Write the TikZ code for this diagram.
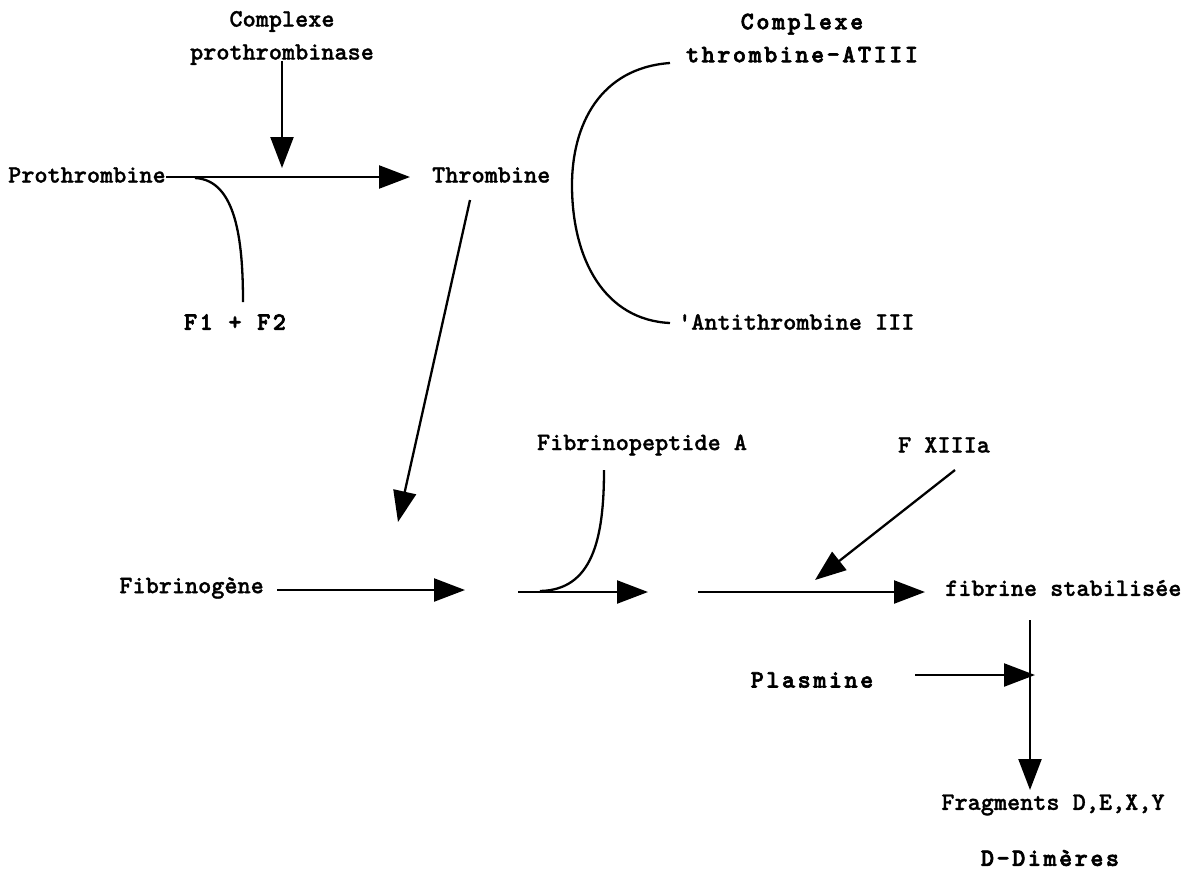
\documentclass[tikz,border=0pt]{standalone}
\usepackage{fontspec}
\newfontfamily\labelfont{lmmonolt10-bold.otf}[FakeBold=1.2]
\newfontfamily\heavyfont{lmmonolt10-bold.otf}[LetterSpace=10, FakeBold=2.6]
\usetikzlibrary{arrows.meta}

\begin{document}
\begin{tikzpicture}[x=1pt, y=-1pt,
  lbl/.style={font=\fontsize{25}{33}\selectfont\labelfont, inner sep=0pt},
  heavy/.style={font=\fontsize{25}{33}\selectfont\heavyfont, inner sep=0pt},
  arr/.style={line width=2.3pt, -{Triangle[length=31pt,width=23pt]}},
  link/.style={line width=2.3pt}]
  \useasboundingbox (0,0) rectangle (1202,871);
  % Prothrombine -> Thrombine
  \node[lbl, align=center] (cplx) at (282,38) {Complexe\\prothrombinase};
  \node[lbl, anchor=west] (pro) at (8,175) {Prothrombine};
  \node[lbl, anchor=west] (thr) at (432,175) {Thrombine};
  \node[heavy] (f12) at (235,322) {F1 + F2};
  \coordinate (proA) at (pro.east |- 0,177);
  \coordinate (tipA) at (410,177);
  \coordinate (tipB) at (282,168);
  \coordinate (brA) at (195,178);
  \coordinate (brB) at (243,302);
  \draw[arr] (proA) -- (tipA);
  \draw[arr] (cplx.south) ++(0,-4) -- (tipB);
  \draw[link] (brA) .. controls (236,180) and (243,240) .. (brB);
  % Antithrombine
  \node[heavy, align=center] (cta) at (802,38) {Complexe\\thrombine-ATIII};
  \node[lbl, anchor=west] (at3) at (678,322) {'Antithrombine III};
  \coordinate (arcA) at (670,63);
  \coordinate (arcM) at (572,185);
  \coordinate (arcB) at (670,323);
  \draw[link] (arcA) .. controls (600,68) and (572,125) .. (arcM)
    .. controls (572,260) and (605,320) .. (arcB);
  % Thrombine -> Fibrinogene
  \coordinate (thrA) at (470,200);
  \coordinate (thrB) at (398,522);
  \draw[arr] (thrA) -- (thrB);
  % Fibrinogene -> fibrine
  \node[lbl, anchor=east] (fbg) at (264,588) {Fibrinogène};
  \node[lbl] (fpa) at (642,445) {Fibrinopeptide A};
  \node[lbl] (f13) at (944,445) {F XIIIa};
  \node[lbl, anchor=west] (fst) at (945,588) {fibrine stabilisée};
  \coordinate (s1A) at (277,590);
  \coordinate (s1B) at (465,590);
  \coordinate (s2A) at (518,592);
  \coordinate (s2B) at (648,592);
  \coordinate (s3A) at (698,592);
  \coordinate (s3B) at (925,592);
  \coordinate (fpaA) at (540,591);
  \coordinate (fpaB) at (604,470);
  \coordinate (f13A) at (955,470);
  \coordinate (f13B) at (815,580);
  \draw[arr] (s1A) -- (s1B);
  \draw[arr] (s2A) -- (s2B);
  \draw[arr] (s3A) -- (s3B);
  \draw[link] (fpaA) .. controls (592,590) and (604,540) .. (fpaB);
  \draw[arr] (f13A) -- (f13B);
  % Fibrinolyse
  \node[heavy] (pla) at (812,680) {Plasmine};
  \node[lbl] (frg) at (1053,805) {Fragments D,E,X,Y};
  \node[heavy] (ddm) at (1050,858) {D-Dimères};
  \coordinate (fstA) at (1030,620);
  \coordinate (fstB) at (1030,790);
  \coordinate (plaA) at (915,675);
  \coordinate (plaB) at (1035,675);
  \draw[arr] (fstA) -- (fstB);
  \draw[arr] (plaA) -- (plaB);
\end{tikzpicture}
\end{document}
